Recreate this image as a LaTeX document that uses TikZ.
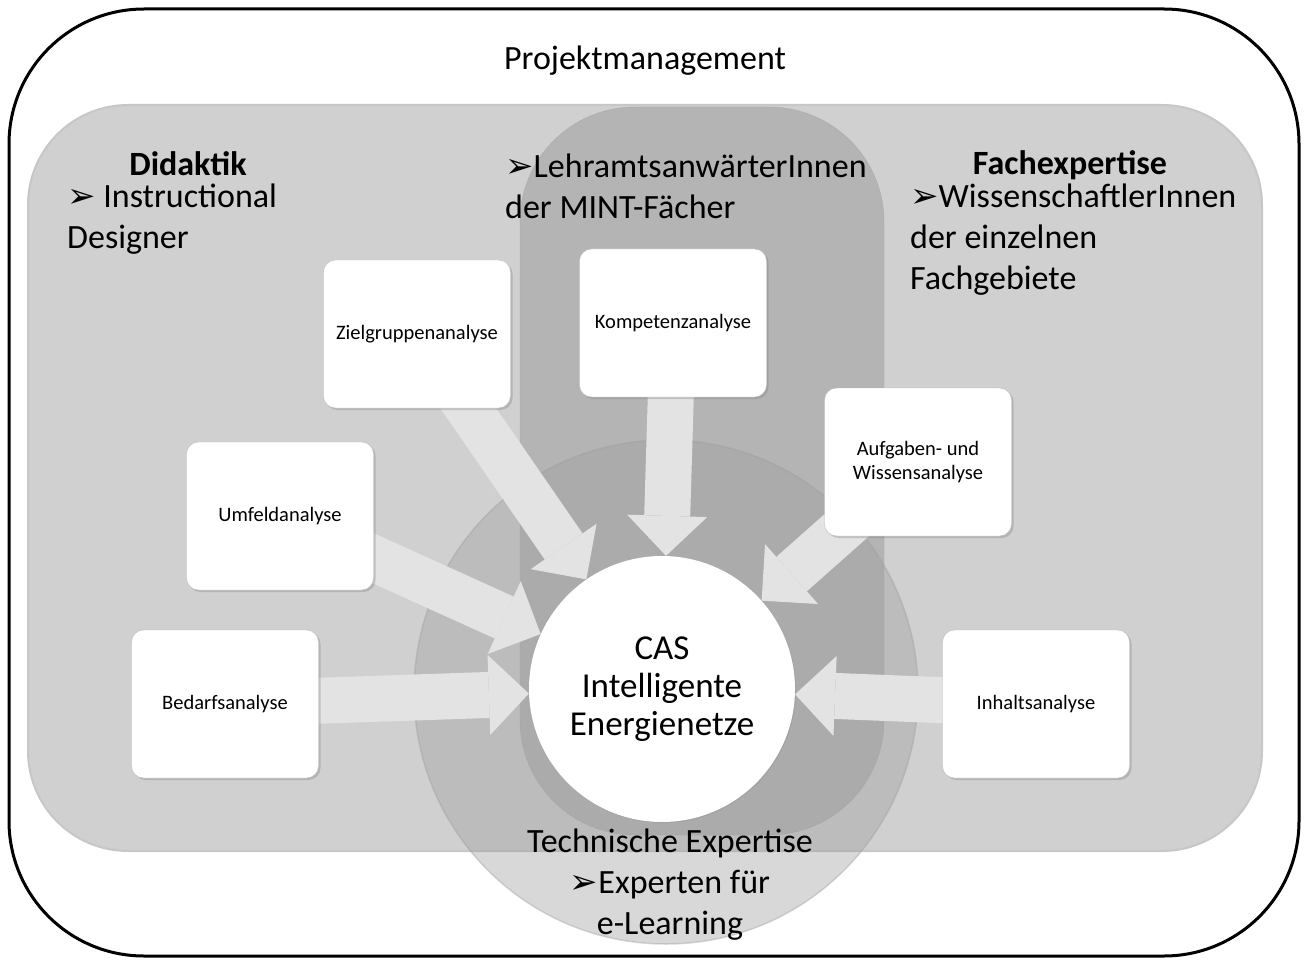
\documentclass[tikz,border=0pt]{standalone}
\usepackage{fontspec}
\setmainfont{Carlito}
\newfontfamily\dingfont{DejaVu Sans}
\usetikzlibrary{arrows.meta,shadows}
\pgfdeclarelayer{bg}
\pgfdeclarelayer{links}
\pgfsetlayers{bg,links,main}
\newcommand{\bul}{{\dingfont\char"27A2}}
\definecolor{rectgray}{HTML}{D0D0D0}
\definecolor{pillargray}{HTML}{B4B4B4}
\definecolor{ellgray}{HTML}{9E9E9E}
\definecolor{flowgray}{HTML}{E3E3E3}
\begin{document}
\begin{tikzpicture}[x=1pt,y=-1pt,
  analysis/.style={rectangle,rounded corners=12pt,draw=black!25,fill=white,
    minimum width=187pt,minimum height=148pt,align=center,
    font=\fontsize{20.5}{24}\selectfont,
    drop shadow={shadow xshift=2pt,shadow yshift=-2pt,opacity=.35}},
  bigtext/.style={font=\fontsize{34}{41}\selectfont,inner sep=0pt,align=left},
  headtext/.style={font=\fontsize{34}{41}\selectfont\bfseries,inner sep=0pt},
  flow/.style={line width=46pt,draw=flowgray,
    -{Triangle[length=40pt,width=80pt,line width=0pt]}}]
  \useasboundingbox (0,0) rectangle (1307,960);

  % areas
  \begin{pgfonlayer}{bg}
    \draw[line width=3pt,rounded corners=135pt] (9,9) rectangle (1299,956);
    \draw[draw=black!22,line width=2pt,fill=rectgray,rounded corners=100pt] (28,105) rectangle (1262,851);
    \draw[draw=black!33,fill=pillargray,rounded corners=115pt] (520,107) rectangle (884,835);
    \draw[draw=ellgray,fill=ellgray,opacity=.4,line width=1.5pt] (666,692) circle[radius=252];
  \end{pgfonlayer}

  \node[bigtext] (proj) at (645,61) {Projektmanagement};
  \node[headtext] (did) at (188,164) {Didaktik};
  \node[bigtext,anchor=north west] (instr) at (67,184) {\bul{} Instructional\\Designer};
  \node[bigtext,anchor=north west] (lehr) at (505,154) {\bul LehramtsanwärterInnen\\der MINT-Fächer};
  \node[headtext] (fach) at (1070,165) {Fachexpertise};
  \node[bigtext,anchor=north west] (wiss) at (910,184) {\bul WissenschaftlerInnen\\der einzelnen\\Fachgebiete};
  \node[bigtext,align=center] (tech) at (670,885) {Technische Expertise\\\bul Experten für\\e-Learning};

  \node[circle,fill=white,minimum size=266pt,inner sep=0pt,align=center,
    font=\fontsize{35}{38}\selectfont,
    drop shadow={shadow xshift=1pt,shadow yshift=-1pt,opacity=.2}] (cas) at (662,689)
    {CAS\\Intelligente\\Energienetze};

  \node[analysis] (ziel) at (417,334) {Zielgruppenanalyse};
  \node[analysis] (komp) at (673,323) {Kompetenzanalyse};
  \node[analysis] (aufg) at (918,462) {Aufgaben- und\\Wissensanalyse};
  \node[analysis] (umf) at (280,516) {Umfeldanalyse};
  \node[analysis] (bed) at (225,704) {Bedarfsanalyse};
  \node[analysis] (inh) at (1036,704) {Inhaltsanalyse};

  % arrows into the centre
  \begin{pgfonlayer}{links}
    \draw[flow] (ziel.center) -- (cas);
    \draw[flow] (komp.center) -- (cas);
    \draw[flow] (aufg.center) -- (cas);
    \draw[flow] (umf.center) -- (cas);
    \draw[flow] (bed.center) -- (cas);
    \draw[flow] (inh.center) -- (cas);
  \end{pgfonlayer}
\end{tikzpicture}
\end{document}
